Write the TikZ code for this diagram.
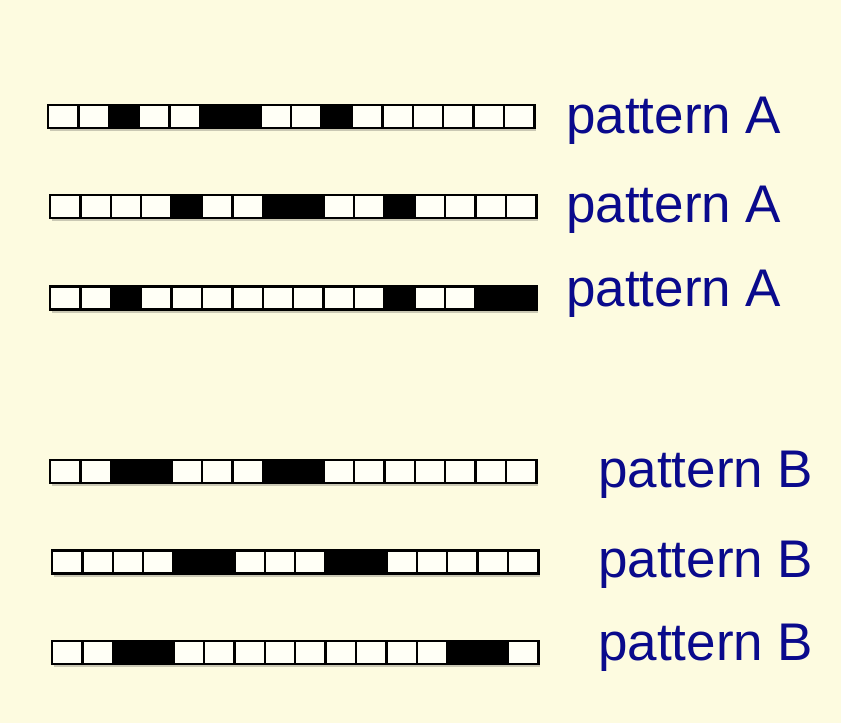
\documentclass[tikz,border=0pt]{standalone}
\usepackage{fontspec}
\setmainfont{Liberation Sans}
\usetikzlibrary{shadows}
\definecolor{bg}{RGB}{253,251,224}
\definecolor{cellw}{RGB}{255,255,246}
\definecolor{lbl}{RGB}{10,10,140}
\colorlet{c0}{cellw}
\colorlet{c1}{black}
\begin{document}
\begin{tikzpicture}[x=1pt,y=-1pt,
  cell/.style={draw=black, line width=2.4pt, minimum width=30.4pt, minimum height=23pt,
    inner sep=0pt, outer sep=0pt,
    drop shadow={shadow xshift=2pt, shadow yshift=-3pt, opacity=0.25, fill=black!80}},
  lab/.style={text=lbl, anchor=base west, inner sep=0pt, font=\fontsize{53}{60}\selectfont}]
\fill[bg] (0,0) rectangle (841,723);
\useasboundingbox (0,0) rectangle (841,723);
\foreach \r/\xo/\yc/\flags in {
  1/48/116.5/{0,0,1,0,0,1,1,0,0,1,0,0,0,0,0,0},
  2/50/206.7/{0,0,0,0,1,0,0,1,1,0,0,1,0,0,0,0},
  3/50/298/{0,0,1,0,0,0,0,0,0,0,0,1,0,0,1,1},
  4/50/471.7/{0,0,1,1,0,0,0,1,1,0,0,0,0,0,0,0},
  5/52/562/{0,0,0,0,1,1,0,0,0,1,1,0,0,0,0,0},
  6/52/652.7/{0,0,1,1,0,0,0,0,0,0,0,0,0,1,1,0}} {
  \foreach \f [count=\c from 0] in \flags {
    \node[cell, fill=c\f] (r\r-\c) at ({\xo+15.2+30.4*\c},\yc) {};
  }
}
\node[lab] (la1) at (566,133) {pattern A};
\node[lab] (la2) at (566,222) {pattern A};
\node[lab] (la3) at (566,306) {pattern A};
\node[lab] (lb1) at (598,487) {pattern B};
\node[lab] (lb2) at (598,577) {pattern B};
\node[lab] (lb3) at (598,660) {pattern B};
\end{tikzpicture}
\end{document}
